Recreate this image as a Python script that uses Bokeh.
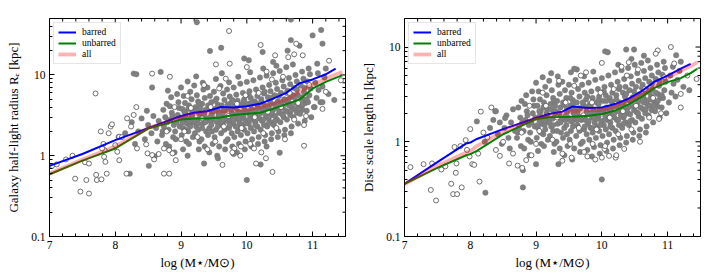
from bokeh.plotting import figure
from bokeh.layouts import row
from bokeh.models import FixedTicker, Legend, LegendItem
from bokeh.embed import file_html
from bokeh.resources import INLINE

FONT = "Liberation Serif"

# ---------------- data: left panel (half-light radius Re) ----------------
RE_LINE_X = [7.0, 7.5, 8.0, 8.5, 9.0, 9.2, 9.4, 9.6, 9.8, 10.0, 10.2, 10.4, 10.6, 10.8, 11.0, 11.2, 11.35, 11.45]
RE_BARRED = [0.75, 1.05, 1.56, 2.2, 3.1, 3.4, 3.55, 4.0, 3.95, 4.1, 4.4, 5.1, 6.0, 7.9, 8.8, 10.2, 12.0, None]
RE_UNBARRED = [0.59, 0.87, 1.23, 2.17, 2.8, 2.9, 2.9, 2.97, 3.2, 3.3, 3.4, 3.8, 4.35, 4.95, 6.8, 8.2, 9.2, 9.9]
RE_ALL = [0.6, 0.9, 1.3, 2.2, 3.0, 3.25, 3.4, 3.55, 3.65, 3.7, 4.0, 4.4, 4.95, 6.2, 7.6, 9.0, 10.1, 10.9]

RE_FILLED = [
    (8.22, 0.60), (8.28, 10.4), (8.32, 10.2), (8.56, 7.0), (8.69, 10.9), (8.51, 0.75), (8.40, 2.9), (8.45, 1.6),
    (8.50, 2.4), (8.55, 1.9), (8.58, 3.1), (8.62, 2.2), (8.64, 1.5), (8.35, 2.0), (8.30, 1.4), (8.05, 1.7),
    (8.15, 1.9), (8.25, 2.6), (8.48, 3.6), (8.66, 2.7),
    (8.71, 1.8), (8.74, 2.3), (8.76, 3.0), (8.79, 2.6), (8.73, 3.7), (8.77, 1.4), (8.78, 4.4), (8.72, 2.0),
    (8.81, 2.1), (8.84, 2.8), (8.86, 3.4), (8.88, 1.7), (8.83, 4.1), (8.89, 2.4), (8.85, 5.3), (8.82, 1.3), (8.87, 3.1), (8.80, 6.4),
    (8.91, 2.0), (8.93, 2.6), (8.95, 3.2), (8.97, 3.9), (8.92, 1.6), (8.96, 4.6), (8.98, 2.3), (8.94, 5.8), (8.99, 2.9), (8.90, 1.1),
    (9.01, 1.8), (9.03, 2.2), (9.05, 2.7), (9.07, 3.3), (9.02, 3.8), (9.06, 4.5), (9.08, 1.5), (9.04, 5.5), (9.09, 2.5), (9.00, 7.0), (9.06, 3.0), (9.03, 1.2),
    (9.11, 2.0), (9.13, 2.4), (9.15, 2.9), (9.17, 3.5), (9.12, 4.2), (9.16, 5.0), (9.18, 1.7), (9.14, 6.2), (9.19, 2.6), (9.10, 8.3), (9.16, 3.2), (9.12, 1.4),
    (9.21, 1.9), (9.23, 2.3), (9.25, 2.8), (9.27, 3.4), (9.22, 4.0), (9.26, 4.7), (9.28, 1.5), (9.24, 5.6), (9.29, 3.0), (9.20, 7.4), (9.26, 2.1), (9.23, 9.6), (9.27, 1.2),
    (9.31, 1.6), (9.33, 2.5), (9.35, 3.1), (9.37, 3.7), (9.32, 4.4), (9.36, 5.2), (9.38, 2.0), (9.34, 6.6), (9.39, 2.7), (9.30, 3.4), (9.36, 1.3), (9.33, 8.0),
    (9.41, 1.8), (9.43, 2.2), (9.45, 2.7), (9.47, 3.3), (9.42, 3.9), (9.46, 4.6), (9.48, 1.4), (9.44, 5.5), (9.49, 2.9), (9.40, 7.0), (9.46, 2.4), (9.43, 1.1), (9.47, 3.6),
    (9.51, 1.7), (9.53, 2.1), (9.55, 2.6), (9.57, 3.2), (9.52, 3.8), (9.56, 4.3), (9.58, 1.3), (9.54, 5.1), (9.59, 2.8), (9.50, 6.2), (9.56, 2.3), (9.53, 8.9), (9.57, 3.5), (9.55, 1.0),
    (9.61, 1.9), (9.63, 2.4), (9.65, 3.0), (9.67, 3.6), (9.62, 4.2), (9.66, 4.9), (9.68, 1.5), (9.64, 5.9), (9.69, 2.7), (9.60, 7.3), (9.66, 2.1), (9.63, 3.3), (9.67, 1.2), (9.62, 10.5),
    (9.71, 1.6), (9.73, 2.2), (9.75, 2.7), (9.77, 3.4), (9.72, 4.0), (9.76, 4.5), (9.78, 1.3), (9.74, 5.4), (9.79, 2.5), (9.70, 6.6), (9.76, 3.0), (9.73, 8.1), (9.77, 1.9), (9.75, 3.8),
    (9.81, 1.7), (9.83, 2.3), (9.85, 2.9), (9.87, 3.5), (9.82, 4.1), (9.86, 4.8), (9.88, 1.4), (9.84, 5.7), (9.89, 2.6), (9.80, 7.0), (9.86, 2.0), (9.83, 3.2), (9.87, 9.5), (9.85, 1.1),
    (9.91, 1.8), (9.93, 2.4), (9.95, 3.0), (9.97, 3.7), (9.92, 4.3), (9.96, 5.0), (9.98, 1.5), (9.94, 6.0), (9.99, 2.7), (9.90, 7.8), (9.96, 2.1), (9.93, 3.4), (9.97, 1.2), (9.95, 4.6),
    (10.01, 1.9), (10.03, 2.5), (10.05, 3.1), (10.07, 3.8), (10.02, 4.4), (10.06, 5.2), (10.08, 1.6), (10.04, 6.3), (10.09, 2.8), (10.00, 8.2), (10.06, 2.2), (10.03, 3.5), (10.07, 1.3), (10.05, 10.8),
    (10.11, 2.0), (10.13, 2.6), (10.15, 3.2), (10.17, 4.0), (10.12, 4.7), (10.16, 5.5), (10.18, 1.7), (10.14, 6.6), (10.19, 2.9), (10.10, 8.6), (10.16, 2.3), (10.13, 3.6), (10.17, 1.4), (10.15, 4.4),
    (10.21, 2.1), (10.23, 2.7), (10.25, 3.4), (10.27, 4.2), (10.22, 5.0), (10.26, 5.9), (10.28, 1.8), (10.24, 7.0), (10.29, 3.0), (10.20, 9.3), (10.26, 2.4), (10.23, 3.8), (10.27, 1.5), (10.25, 12.0),
    (10.31, 2.3), (10.33, 2.9), (10.35, 3.6), (10.37, 4.4), (10.32, 5.3), (10.36, 6.3), (10.38, 1.9), (10.34, 7.5), (10.39, 3.2), (10.30, 9.8), (10.36, 2.6), (10.33, 4.0), (10.37, 1.6), (10.35, 4.8),
    (10.41, 2.4), (10.43, 3.1), (10.45, 3.9), (10.47, 4.7), (10.42, 5.6), (10.46, 6.7), (10.48, 2.0), (10.44, 8.0), (10.49, 3.4), (10.40, 10.5), (10.46, 2.8), (10.43, 4.3), (10.47, 1.7), (10.45, 13.0),
    (10.51, 2.6), (10.53, 3.3), (10.55, 4.1), (10.57, 5.0), (10.52, 6.0), (10.56, 7.2), (10.58, 2.1), (10.54, 8.6), (10.59, 3.6), (10.50, 11.2), (10.56, 3.0), (10.53, 4.6), (10.57, 1.8),
    (10.61, 2.8), (10.63, 3.5), (10.65, 4.4), (10.67, 5.3), (10.62, 6.4), (10.66, 7.7), (10.68, 2.3), (10.64, 9.2), (10.69, 3.9), (10.60, 12.5), (10.66, 3.2), (10.63, 5.0), (10.67, 1.9),
    (10.71, 3.0), (10.73, 3.8), (10.75, 4.7), (10.77, 5.7), (10.72, 6.9), (10.76, 8.3), (10.78, 2.5), (10.74, 10.0), (10.79, 4.2), (10.70, 13.5), (10.76, 3.4), (10.73, 5.3),
    (10.81, 3.3), (10.83, 4.1), (10.85, 5.0), (10.87, 6.1), (10.82, 7.4), (10.86, 9.0), (10.88, 2.7), (10.84, 11.0), (10.89, 4.5), (10.85, 3.7),
    (10.91, 3.6), (10.93, 4.6), (10.95, 5.6), (10.97, 6.8), (10.92, 8.3), (10.96, 10.2), (10.98, 3.0), (10.94, 12.0),
    (11.02, 4.0), (11.06, 5.2), (11.09, 6.5), (11.04, 8.0), (11.08, 10.5), (11.12, 4.6), (11.15, 7.2), (11.18, 9.3), (11.20, 12.0), (11.24, 5.8),
    (9.24, 45.0), (9.44, 19.8), (9.61, 21.7), (9.96, 16.0), (10.03, 15.2), (10.24, 19.2), (10.40, 14.5), (10.62, 20.0),
    (10.67, 27.0), (10.80, 23.0), (10.67, 48.5), (11.00, 30.9), (11.13, 36.0), (11.15, 24.4), (11.07, 13.8), (10.00, 0.50),
    (10.50, 1.09), (10.21, 0.78), (9.35, 0.80), (9.56, 0.93), (11.33, 4.9), (11.15, 4.6), (11.03, 4.0), (8.60, 0.98),
    (9.10, 1.0), (9.80, 1.05), (10.30, 1.3),
]

RE_FILLED_CORE = [
    (9.02, 2.6), (9.05, 3.5), (9.08, 2.9), (9.11, 3.8), (9.14, 2.3), (9.17, 3.1), (9.20, 2.7), (9.23, 3.6), (9.26, 2.5), (9.29, 3.9),
    (9.32, 2.2), (9.35, 3.3), (9.38, 2.9), (9.41, 4.2), (9.44, 3.0), (9.47, 2.0), (9.50, 3.6), (9.53, 2.7), (9.56, 4.0), (9.59, 3.1),
    (9.62, 2.5), (9.65, 3.7), (9.68, 2.9), (9.71, 4.3), (9.74, 2.4), (9.77, 3.2), (9.80, 2.7), (9.83, 3.9), (9.86, 2.3), (9.89, 3.4),
    (9.92, 2.9), (9.95, 4.1), (9.98, 2.5), (10.01, 3.4), (10.04, 2.8), (10.07, 4.5), (10.10, 3.1), (10.13, 2.4), (10.16, 3.8), (10.19, 3.3),
    (10.22, 4.6), (10.25, 2.8), (10.28, 3.6), (10.31, 4.1), (10.34, 3.1), (10.37, 5.2), (10.40, 3.7), (10.43, 2.7), (10.46, 4.4), (10.49, 5.5),
    (10.52, 3.9), (10.55, 3.2), (10.58, 4.9), (10.61, 6.0), (10.64, 4.2), (10.67, 3.6), (10.70, 5.6), (10.73, 4.5), (10.76, 6.6), (10.79, 3.8),
    (10.82, 5.3), (10.85, 4.3), (10.88, 6.9), (10.91, 5.0), (9.07, 2.1), (9.27, 4.5), (9.52, 4.8), (9.78, 4.9), (10.03, 5.6), (10.27, 6.2),
    (9.13, 2.7), (9.37, 2.6), (9.63, 2.8), (9.88, 2.9), (10.12, 3.5), (10.38, 3.4), (10.62, 4.5), (10.33, 2.5), (9.93, 3.2), (9.58, 3.4),
]

RE_OPEN = [
    (7.70, 5.9), (7.11, 0.78), (7.39, 0.52), (7.47, 0.36), (7.60, 0.34), (7.56, 0.50), (7.54, 0.83), (7.71, 0.58),
    (7.72, 0.50), (7.79, 0.51), (7.87, 0.60), (7.78, 2.0), (7.90, 1.9), (7.93, 2.3), (7.95, 2.45), (7.82, 1.4),
    (7.84, 1.17), (7.83, 0.97), (7.85, 0.84), (7.80, 1.23), (8.06, 0.88), (8.03, 1.12), (8.00, 1.35), (8.06, 1.72),
    (8.10, 1.7), (8.17, 0.60), (8.18, 2.9), (8.24, 2.3), (8.28, 3.2), (8.32, 4.0), (8.56, 10.4), (8.83, 9.5),
    (8.33, 1.23), (8.47, 1.38), (8.49, 1.07), (8.56, 1.02), (8.66, 1.05), (8.74, 1.23), (8.82, 1.17), (8.87, 1.07),
    (8.74, 0.60), (8.82, 0.60), (8.59, 0.90), (8.92, 0.88), (7.04, 0.75), (7.25, 0.9), (7.60, 0.8), (7.35, 1.0),
    (9.73, 35.0), (9.53, 13.5), (9.74, 13.8), (10.21, 23.5), (10.43, 17.5), (10.63, 16.6), (10.72, 18.0), (10.75, 24.4),
    (10.85, 17.5), (11.25, 15.0), (10.39, 0.63), (10.87, 1.33), (10.29, 0.93), (10.14, 0.80), (9.63, 0.77), (9.91, 1.3),
    (10.11, 1.23), (9.81, 1.23), (11.43, 8.6), (11.20, 6.2), (11.15, 3.8), (10.87, 2.4),
    (9.05, 2.0), (9.15, 3.9), (9.25, 1.7), (9.32, 2.9), (9.45, 4.0), (9.52, 1.5), (9.58, 6.8), (9.65, 2.3),
    (9.72, 3.1), (9.78, 1.1), (9.85, 4.4), (9.92, 2.2), (9.98, 5.6), (10.05, 1.4), (10.12, 3.0), (10.18, 6.0),
    (10.25, 1.9), (10.32, 3.5), (10.38, 8.8), (10.45, 2.2), (10.52, 4.0), (10.58, 1.6), (10.65, 6.0), (10.72, 2.8),
    (10.78, 4.5), (10.90, 3.1), (10.95, 7.5), (9.10, 5.5), (9.35, 7.5), (9.68, 9.0), (10.00, 12.5), (10.30, 11.0),
    (10.55, 9.5), (8.90, 4.0), (8.78, 2.0), (9.00, 1.6), (9.40, 1.2), (9.90, 1.0), (10.22, 1.1),
]

# ---------------- data: right panel (disc scale length h) ----------------
H_LINE_X = [7.0, 7.5, 7.94, 8.0, 8.1, 8.5, 9.0, 9.2, 9.4, 9.55, 9.8, 10.0, 10.2, 10.4, 10.6, 10.8, 11.0, 11.2, 11.35, 11.45]
H_BARRED = [0.36, 0.61, 0.96, 0.98, 1.07, 1.36, 1.78, 1.96, 2.08, 2.35, 2.27, 2.3, 2.5, 2.83, 3.4, 4.3, 5.0, 5.9, 6.65, None]
H_UNBARRED = [0.36, 0.53, 0.72, 0.74, 0.8, 1.2, 1.74, 1.81, 1.83, 1.84, 1.88, 1.96, 2.13, 2.47, 2.95, 3.7, 4.26, 4.7, 5.3, 5.9]
H_ALL = [0.355, 0.56, 0.77, 0.8, 0.9, 1.29, 1.78, 1.89, 2.0, 2.1, 2.16, 2.16, 2.35, 2.68, 3.17, 3.9, 4.7, 5.6, 6.3, 6.9]

H_FILLED = [
    (8.42, 1.2), (8.45, 1.6), (8.48, 0.95), (8.52, 1.4), (8.55, 1.9), (8.58, 1.1), (8.62, 1.6), (8.65, 2.2),
    (8.68, 1.3), (8.38, 2.1), (8.30, 1.4), (8.22, 1.0), (8.35, 1.7), (8.60, 0.85), (8.23, 0.29), (8.80, 0.33),
    (8.71, 1.1), (8.74, 1.4), (8.76, 1.8), (8.79, 1.6), (8.73, 2.3), (8.77, 0.9), (8.78, 2.7), (8.72, 1.25),
    (8.81, 1.3), (8.84, 1.7), (8.86, 2.1), (8.88, 1.05), (8.83, 2.5), (8.89, 1.5), (8.85, 3.1), (8.82, 0.85), (8.87, 1.9), (8.80, 0.5),
    (8.91, 1.25), (8.93, 1.6), (8.95, 2.0), (8.97, 2.4), (8.92, 1.0), (8.96, 2.8), (8.98, 1.45), (8.94, 3.4), (8.99, 1.8), (8.90, 0.72),
    (9.01, 1.1), (9.03, 1.4), (9.05, 1.7), (9.07, 2.1), (9.02, 2.4), (9.06, 2.8), (9.08, 0.95), (9.04, 3.4), (9.09, 1.55), (9.00, 4.2), (9.06, 1.9), (9.03, 0.8),
    (9.11, 1.2), (9.13, 1.5), (9.15, 1.8), (9.17, 2.2), (9.12, 2.6), (9.16, 3.1), (9.18, 1.05), (9.14, 3.8), (9.19, 1.65), (9.10, 4.8), (9.16, 2.0), (9.12, 0.9),
    (9.21, 1.15), (9.23, 1.45), (9.25, 1.75), (9.27, 2.1), (9.22, 2.5), (9.26, 2.9), (9.28, 0.95), (9.24, 3.5), (9.29, 1.85), (9.20, 4.4), (9.26, 1.3), (9.23, 5.3), (9.27, 0.78),
    (9.31, 1.0), (9.33, 1.55), (9.35, 1.95), (9.37, 2.3), (9.32, 2.7), (9.36, 3.2), (9.38, 1.25), (9.34, 4.0), (9.39, 1.7), (9.30, 2.1), (9.36, 0.85), (9.33, 4.9),
    (9.41, 1.1), (9.43, 1.4), (9.45, 1.7), (9.47, 2.05), (9.42, 2.45), (9.46, 2.9), (9.48, 0.9), (9.44, 3.5), (9.49, 1.8), (9.40, 4.3), (9.46, 1.5), (9.43, 0.72), (9.47, 2.25),
    (9.51, 1.05), (9.53, 1.3), (9.55, 1.65), (9.57, 2.0), (9.52, 2.4), (9.56, 2.75), (9.58, 0.85), (9.54, 3.3), (9.59, 1.75), (9.50, 4.0), (9.56, 1.45), (9.53, 5.4), (9.57, 2.2), (9.55, 0.65),
    (9.61, 1.15), (9.63, 1.5), (9.65, 1.85), (9.67, 2.25), (9.62, 2.6), (9.66, 3.0), (9.68, 0.95), (9.64, 3.6), (9.69, 1.7), (9.60, 4.5), (9.66, 1.3), (9.63, 2.05), (9.67, 0.78), (9.62, 5.8),
    (9.71, 1.0), (9.73, 1.35), (9.75, 1.7), (9.77, 2.1), (9.72, 2.45), (9.76, 2.8), (9.78, 0.82), (9.74, 3.3), (9.79, 1.55), (9.70, 4.0), (9.76, 1.9), (9.73, 4.9), (9.77, 1.2), (9.75, 2.35),
    (9.81, 1.05), (9.83, 1.4), (9.85, 1.8), (9.87, 2.15), (9.82, 2.5), (9.86, 2.9), (9.88, 0.88), (9.84, 3.4), (9.89, 1.6), (9.80, 4.2), (9.86, 1.25), (9.83, 2.0), (9.87, 5.5), (9.85, 0.7),
    (9.91, 1.1), (9.93, 1.45), (9.95, 1.85), (9.97, 2.2), (9.92, 2.6), (9.96, 3.0), (9.98, 0.92), (9.94, 3.6), (9.99, 1.65), (9.90, 4.5), (9.96, 1.3), (9.93, 2.05), (9.97, 0.75), (9.95, 2.75),
    (10.01, 1.15), (10.03, 1.5), (10.05, 1.9), (10.07, 2.3), (10.02, 2.7), (10.06, 3.1), (10.08, 0.98), (10.04, 3.8), (10.09, 1.7), (10.00, 4.7), (10.06, 1.35), (10.03, 2.1), (10.07, 0.8), (10.05, 9.0),
    (10.11, 1.2), (10.13, 1.6), (10.15, 2.0), (10.17, 2.45), (10.12, 2.9), (10.16, 3.3), (10.18, 1.05), (10.14, 4.0), (10.19, 1.8), (10.10, 5.0), (10.16, 1.4), (10.13, 2.2), (10.17, 0.85), (10.15, 2.65),
    (10.21, 1.3), (10.23, 1.7), (10.25, 2.1), (10.27, 2.6), (10.22, 3.1), (10.26, 3.6), (10.28, 1.1), (10.24, 4.3), (10.29, 1.9), (10.20, 5.4), (10.26, 1.5), (10.23, 2.35), (10.27, 0.92), (10.25, 6.5),
    (10.31, 1.4), (10.33, 1.8), (10.35, 2.25), (10.37, 2.75), (10.32, 3.3), (10.36, 3.8), (10.38, 1.15), (10.34, 4.6), (10.39, 2.0), (10.30, 5.7), (10.36, 1.6), (10.33, 2.5), (10.37, 0.98), (10.35, 3.0),
    (10.41, 1.5), (10.43, 1.95), (10.45, 2.4), (10.47, 2.95), (10.42, 3.5), (10.46, 4.1), (10.48, 1.25), (10.44, 4.9), (10.49, 2.15), (10.40, 6.0), (10.46, 1.7), (10.43, 2.7), (10.47, 1.05), (10.45, 7.5),
    (10.51, 1.6), (10.53, 2.05), (10.55, 2.6), (10.57, 3.15), (10.52, 3.8), (10.56, 4.4), (10.58, 1.35), (10.54, 5.3), (10.59, 2.3), (10.50, 6.5), (10.56, 1.85), (10.53, 2.9), (10.57, 1.15),
    (10.61, 1.75), (10.63, 2.2), (10.65, 2.8), (10.67, 3.4), (10.62, 4.0), (10.66, 4.7), (10.68, 1.45), (10.64, 5.6), (10.69, 2.5), (10.60, 6.8), (10.66, 2.0), (10.63, 3.1), (10.67, 1.25),
    (10.71, 1.9), (10.73, 2.4), (10.75, 3.0), (10.77, 3.6), (10.72, 4.3), (10.76, 5.0), (10.78, 1.6), (10.74, 6.0), (10.79, 2.7), (10.70, 7.2), (10.76, 2.15), (10.73, 3.3),
    (10.81, 2.1), (10.83, 2.6), (10.85, 3.2), (10.87, 3.9), (10.82, 4.6), (10.86, 5.4), (10.88, 1.8), (10.84, 6.5), (10.89, 2.9), (10.85, 2.35),
    (10.91, 2.3), (10.93, 2.9), (10.95, 3.5), (10.97, 4.3), (10.92, 5.1), (10.96, 6.0), (10.98, 2.0), (10.94, 7.0),
    (11.02, 2.6), (11.06, 3.3), (11.09, 4.1), (11.04, 5.0), (11.08, 6.2), (11.12, 3.0), (11.15, 4.5), (11.18, 5.6), (11.20, 7.0), (11.24, 3.8),
    (9.58, 5.9), (10.09, 8.8), (10.37, 9.4), (10.49, 9.4), (10.64, 8.1), (11.13, 8.2), (11.33, 3.5), (9.34, 0.58),
    (9.00, 0.58), (10.00, 0.40), (8.53, 1.78), (8.10, 1.64), (8.39, 2.1),
]

H_FILLED_CORE = [
    (9.02, 1.5), (9.05, 2.1), (9.08, 1.7), (9.11, 2.3), (9.14, 1.35), (9.17, 1.9), (9.20, 1.6), (9.23, 2.2), (9.26, 1.5), (9.29, 2.4),
    (9.32, 1.3), (9.35, 2.0), (9.38, 1.75), (9.41, 2.6), (9.44, 1.85), (9.47, 1.2), (9.50, 2.2), (9.53, 1.65), (9.56, 2.5), (9.59, 1.9),
    (9.62, 1.5), (9.65, 2.25), (9.68, 1.75), (9.71, 2.6), (9.74, 1.45), (9.77, 1.95), (9.80, 1.65), (9.83, 2.4), (9.86, 1.4), (9.89, 2.05),
    (9.92, 1.75), (9.95, 2.5), (9.98, 1.5), (10.01, 2.05), (10.04, 1.7), (10.07, 2.7), (10.10, 1.9), (10.13, 1.45), (10.16, 2.3), (10.19, 2.0),
    (10.22, 2.8), (10.25, 1.7), (10.28, 2.2), (10.31, 2.5), (10.34, 1.9), (10.37, 3.2), (10.40, 2.3), (10.43, 1.65), (10.46, 2.7), (10.49, 3.4),
    (10.52, 2.4), (10.55, 2.0), (10.58, 3.0), (10.61, 3.7), (10.64, 2.6), (10.67, 2.2), (10.70, 3.5), (10.73, 2.8), (10.76, 4.1), (10.79, 2.4),
    (10.82, 3.3), (10.85, 2.7), (10.88, 4.3), (10.91, 3.1), (9.07, 1.25), (9.27, 2.7), (9.52, 2.9), (9.78, 3.0), (10.03, 3.4), (10.27, 3.8),
    (9.13, 1.65), (9.37, 1.6), (9.63, 1.7), (9.88, 1.8), (10.12, 2.15), (10.38, 2.1), (10.62, 2.75), (10.33, 1.55), (9.93, 1.95), (9.58, 2.1),
]

H_OPEN = [
    (7.09, 0.54), (7.40, 0.31), (7.48, 0.24), (7.56, 0.51), (7.62, 0.55), (7.29, 0.58), (7.42, 0.59), (7.71, 0.36),
    (7.74, 0.28), (7.80, 0.28), (7.87, 0.33), (7.78, 0.47), (7.79, 0.59), (7.76, 0.88), (7.93, 1.04), (7.95, 0.82),
    (7.99, 0.70), (8.03, 0.58), (8.06, 0.57), (8.14, 0.38), (8.16, 2.08), (8.00, 1.36), (8.32, 2.3), (8.26, 1.11),
    (8.39, 0.82), (8.45, 0.71), (8.59, 0.59), (8.72, 0.56), (8.79, 0.53), (8.85, 0.64), (8.93, 0.72), (7.85, 0.9),
    (8.12, 0.75), (8.20, 1.25), (8.50, 1.0), (8.65, 0.75),
    (9.76, 5.4), (10.41, 6.9), (10.85, 9.2), (11.05, 10.0), (10.82, 8.5), (11.44, 4.6), (11.20, 3.2), (11.20, 2.3),
    (10.87, 1.74), (10.34, 0.84), (10.11, 0.71), (10.00, 0.68), (10.04, 0.84), (10.21, 0.68), (9.40, 0.63), (9.54, 0.68),
    (9.86, 0.95), (9.73, 0.78), (11.30, 5.0), (11.10, 6.7),
    (9.05, 1.3), (9.15, 2.4), (9.25, 1.05), (9.32, 1.8), (9.45, 2.6), (9.52, 0.95), (9.58, 3.9), (9.65, 1.4),
    (9.72, 1.9), (9.78, 0.7), (9.85, 2.6), (9.92, 1.35), (9.98, 3.3), (10.05, 0.9), (10.12, 1.8), (10.18, 3.6),
    (10.25, 1.2), (10.32, 2.1), (10.38, 5.0), (10.45, 1.35), (10.52, 2.4), (10.58, 1.0), (10.65, 3.6), (10.72, 1.8),
    (10.78, 2.9), (10.90, 2.0), (10.95, 4.8), (9.10, 3.3), (9.35, 4.4), (9.68, 5.0), (10.00, 6.8), (10.30, 6.2),
    (10.55, 5.8), (8.90, 2.4), (8.78, 1.25), (9.00, 0.95), (9.40, 0.75), (9.90, 0.65), (10.22, 0.72),
]

X_TICKS = [7, 8, 9, 10, 11]
X_MINOR = [7.2, 7.4, 7.6, 7.8, 8.2, 8.4, 8.6, 8.8, 9.2, 9.4, 9.6, 9.8, 10.2, 10.4, 10.6, 10.8, 11.2, 11.4]
Y_TICKS = [0.1, 1, 10]
Y_MINOR = [0.2, 0.3, 0.4, 0.5, 0.6, 0.7, 0.8, 0.9, 2, 3, 4, 5, 6, 7, 8, 9, 20, 30, 40, 50]
Y_LABELS = {0.1: "0.1", 1: "1", 10: "10"}
X_MIN, X_MAX = 7, 11.5


def style_axis(ax):
    ax.axis_line_color = "black"
    ax.axis_line_width = 1
    ax.major_tick_in = 5
    ax.major_tick_out = 0
    ax.minor_tick_in = 3
    ax.minor_tick_out = 0
    ax.major_tick_line_color = "black"
    ax.minor_tick_line_color = "black"
    ax.major_label_text_font = FONT
    ax.major_label_text_font_size = "11.5px"
    ax.major_label_text_color = "black"
    ax.axis_label_text_font = FONT
    ax.axis_label_text_font_size = "13px"
    ax.axis_label_text_font_style = "normal"
    ax.axis_label_text_color = "black"


def make_panel(ymax, ylabel, filled, opened, lx, barred, unbarred, allv, width, left_border, right_border):
    p = figure(width=width, height=274, x_range=(X_MIN, X_MAX), y_range=(0.1, ymax),
               y_axis_type="log", output_backend="svg", toolbar_location=None,
               min_border_left=left_border, min_border_right=right_border,
               min_border_top=18, min_border_bottom=38)
    p.grid.visible = False
    p.outline_line_color = "black"
    p.outline_line_width = 1
    p.background_fill_color = "white"
    p.border_fill_color = "white"

    p.xaxis.ticker = FixedTicker(ticks=X_TICKS, minor_ticks=X_MINOR)
    p.yaxis.ticker = FixedTicker(ticks=Y_TICKS, minor_ticks=Y_MINOR)
    p.yaxis.major_label_overrides = Y_LABELS
    p.xaxis.axis_label = "log (M⋆/M⊙)"
    p.yaxis.axis_label = ylabel
    p.xaxis.axis_label_standoff = 3
    p.xaxis.major_label_standoff = 4
    p.yaxis.axis_label_standoff = 7
    p.yaxis.major_label_standoff = 4
    for ax in list(p.xaxis) + list(p.yaxis):
        style_axis(ax)

    # mirrored inward ticks on the top and right edges (half of each dash is clipped by the frame)
    p.scatter(X_TICKS, [ymax] * len(X_TICKS), marker="dash", angle=1.5708, size=10,
              line_color="black", line_width=1)
    p.scatter(X_MINOR, [ymax] * len(X_MINOR), marker="dash", angle=1.5708, size=6,
              line_color="black", line_width=1)
    yt_major = [t for t in Y_TICKS if t <= ymax]
    yt_minor = [t for t in Y_MINOR if t < ymax]
    p.scatter([X_MAX] * len(yt_major), yt_major, marker="dash", size=10, line_color="black", line_width=1)
    p.scatter([X_MAX] * len(yt_minor), yt_minor, marker="dash", size=6, line_color="black", line_width=1)

    fx = [a for a, b in filled]
    fy = [b for a, b in filled]
    ox = [a for a, b in opened]
    oy = [b for a, b in opened]
    p.scatter(fx, fy, size=5.4, fill_color="#808080", line_color="#737373", line_width=0.5)
    p.scatter(ox, oy, size=5, fill_color="white", line_color="#4d4d4d", line_width=0.8)

    bx = [x for x, v in zip(lx, barred) if v is not None]
    by = [v for v in barred if v is not None]
    r1 = p.line(bx, by, line_color="#0000ff", line_width=2)
    r2 = p.line(lx, unbarred, line_color="#008000", line_width=2)
    r3 = p.line(lx, allv, line_color="#ff0000", line_alpha=0.3, line_width=3.8)

    leg = Legend(items=[LegendItem(label="barred", renderers=[r1]),
                        LegendItem(label="unbarred", renderers=[r2]),
                        LegendItem(label="all", renderers=[r3])],
                 location="top_left")
    leg.label_text_font = FONT
    leg.label_text_font_size = "9.5px"
    leg.label_text_color = "black"
    leg.glyph_width = 18
    leg.glyph_height = 10
    leg.label_height = 10
    leg.label_standoff = 6
    leg.spacing = 1
    leg.padding = 4
    leg.margin = 4
    leg.border_line_color = "#cccccc"
    leg.border_line_width = 1
    leg.background_fill_alpha = 0.85
    p.add_layout(leg)
    return p


p1 = make_panel(50, "Galaxy half-light radius Rₑ [kpc]", RE_FILLED + RE_FILLED_CORE, RE_OPEN,
                RE_LINE_X, RE_BARRED, RE_UNBARRED, RE_ALL, 355, 49, 10)
p2 = make_panel(20, "Disc scale length h [kpc]", H_FILLED + H_FILLED_CORE, H_OPEN,
                H_LINE_X, H_BARRED, H_UNBARRED, H_ALL, 358, 49, 13)

layout = row(p1, p2)
open("out.html", "w").write(file_html(layout, INLINE))
